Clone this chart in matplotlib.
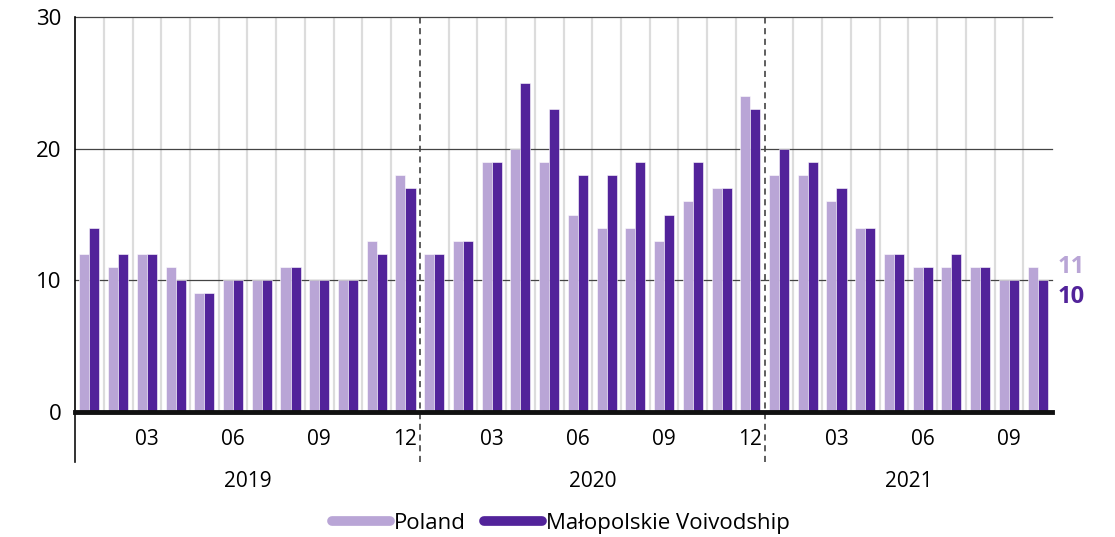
import matplotlib.pyplot as plt
from matplotlib.lines import Line2D
import numpy as np

plt.rcParams['font.family'] = ['Open Sans', 'DejaVu Sans']

years = ["2019", "2020", "2021"]
months_per_year = [12, 12, 10]
month_ticks = ["03", "06", "09", "12"]

poland = [12, 11, 12, 11, 9, 10, 10, 11, 10, 10, 13, 18,
          12, 13, 19, 20, 19, 15, 14, 14, 13, 16, 17, 24,
          18, 18, 16, 14, 12, 11, 11, 11, 10, 11]
malopolska = [14, 12, 12, 10, 9, 10, 10, 11, 10, 10, 12, 17,
              12, 13, 19, 25, 23, 18, 18, 19, 15, 19, 17, 23,
              20, 19, 17, 14, 12, 11, 12, 11, 10, 10]

light = '#b9a5d6'
dark = '#52239a'

n = len(poland)
x = np.arange(n)
w = 0.35

fig = plt.figure(figsize=(11.15, 5.37), dpi=100)
ax = fig.add_axes([0.0673, 0.2328, 0.8762, 0.7355])

# month separators, dashed at year change
year_ends = np.cumsum(months_per_year)[:-1]
for b in np.arange(n - 1) + 0.5:
    if int(b + 0.5) in year_ends:
        ax.plot([b, b], [-0.127, 1], transform=ax.get_xaxis_transform(), color='#333333',
                lw=1.1, ls=(0, (4, 3)), clip_on=False, zorder=1)
    else:
        ax.axvline(b, color='#dcdcdc', lw=1.6, zorder=0)

for yv in [10, 20, 30]:
    ax.axhline(yv, color='#444444', lw=0.9, zorder=1, clip_on=False)

ax.bar(x - w / 2, poland, w, color=light, edgecolor='white', linewidth=0.4, zorder=2)
ax.bar(x + w / 2, malopolska, w, color=dark, edgecolor='white', linewidth=0.4, zorder=2)
ax.axhline(0, color='#111111', lw=3.5, zorder=3, clip_on=False)

ax.set_xlim(-0.5, n - 0.5)
ax.set_ylim(0, 30)
ax.set_yticks([0, 10, 20, 30])
ax.tick_params(axis='y', length=0, labelsize=16, pad=10)

# month tick labels
tick_pos = []
tick_lab = []
start = 0
for cnt in months_per_year:
    for m in range(cnt):
        if (m + 1) % 3 == 0:
            tick_pos.append(start + m)
            tick_lab.append(month_ticks[(m + 1) // 3 - 1])
    start += cnt
ax.set_xticks(tick_pos)
ax.set_xticklabels(tick_lab)
ax.tick_params(axis='x', length=0, labelsize=15, pad=12)

start = 0
for yr, cnt in zip(years, months_per_year):
    ax.text(start + (cnt - 1) / 2, -0.175, yr, transform=ax.get_xaxis_transform(),
            ha='center', va='center', fontsize=15)
    start += cnt

for s in ['top', 'right', 'bottom']:
    ax.spines[s].set_visible(False)
ax.spines['left'].set_bounds(0, 30)
ax.spines['left'].set_linewidth(1.2)
ax.plot([-0.5, -0.5], [-0.127, 0], transform=ax.get_xaxis_transform(), color='#111111',
        lw=1.2, clip_on=False)

# last values on the right
ax.text(n - 0.5 + 0.2, poland[-1], str(poland[-1]), color=light, fontsize=17,
        fontweight='bold', ha='left', va='center', clip_on=False)
ax.text(n - 0.5 + 0.2, malopolska[-1] - 1.3, str(malopolska[-1]), color=dark, fontsize=17,
        fontweight='bold', ha='left', va='center', clip_on=False)

handles = [Line2D([0], [0], color=light, lw=7, solid_capstyle='round'),
           Line2D([0], [0], color=dark, lw=7, solid_capstyle='round')]
fig.legend(handles, ['Poland', 'Małopolskie Voivodship'], loc='center', bbox_to_anchor=(0.503, 0.026),
           ncol=2, frameon=False, fontsize=16, handlelength=2.6, handletextpad=0.2,
           columnspacing=0.8)

plt.savefig('out.png')
